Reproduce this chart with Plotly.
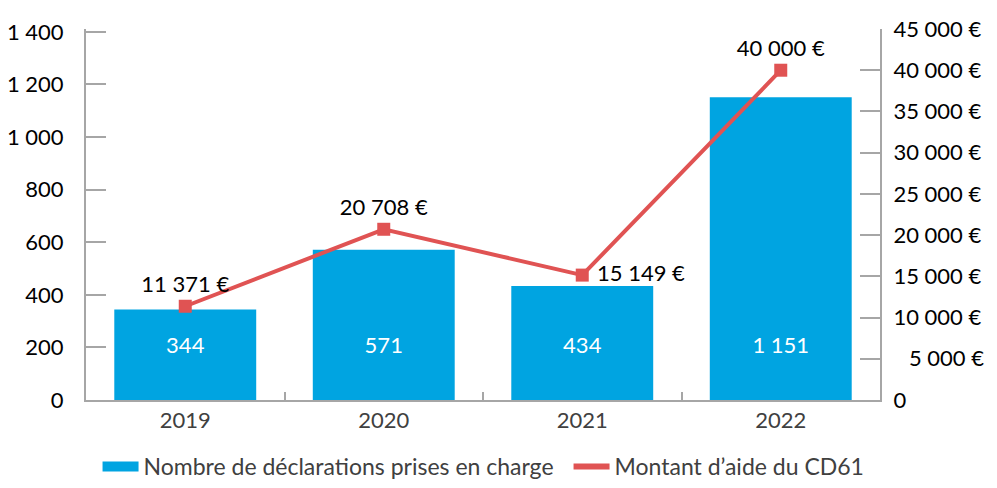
import plotly.graph_objects as go

YEARS = ["2019", "2020", "2021", "2022"]
DECLARATIONS = [344, 571, 434, 1151]
DECL_LABELS = ["344", "571", "434", "1 151"]
MONTANT = [11371, 20708, 15149, 40000]
MONTANT_LABELS = ["11 371 €", "20 708 €", " 15 149 €", "40 000 €"]
MONTANT_POS = ["top center", "top center", "middle right", "top center"]

LEFT_TICKS = [0, 200, 400, 600, 800, 1000, 1200, 1400]
LEFT_TICKTEXT = ["0", "200", "400", "600", "800", "1 000", "1 200", "1 400"]
RIGHT_TICKS = [0, 5000, 10000, 15000, 20000, 25000, 30000, 35000, 40000, 45000]
RIGHT_TICKTEXT = ["0", "\u2007\u20095 000 €", "10 000 €", "15 000 €", "20 000 €",
                  "25 000 €", "30 000 €", "35 000 €", "40 000 €", "45 000 €"]

LABEL_LEVEL = 200  # height (left axis units) where the white counts sit

BLUE = "#00A4E1"
RED = "#E05353"
AXIS = "#A6A6A6"
FONT = "Lato"
SIZE = 22

fig = go.Figure()
fig.add_trace(go.Bar(
    x=YEARS, y=DECLARATIONS,
    name="Nombre de déclarations prises en charge",
    marker=dict(color=BLUE, line=dict(width=0)),
    hoverinfo="skip", showlegend=False,
))
# white count labels inside the bars
fig.add_trace(go.Scatter(
    x=YEARS, y=[LABEL_LEVEL] * len(YEARS),
    mode="text", text=DECL_LABELS, textposition="middle center",
    textfont=dict(family=FONT, size=SIZE, color="#FFFFFF"),
    showlegend=False, hoverinfo="skip",
))
fig.add_trace(go.Scatter(
    x=YEARS, y=MONTANT, yaxis="y2",
    mode="lines",
    name="Montant d\u2019aide du CD61",
    line=dict(color=RED, width=4),
    showlegend=False,
))
fig.add_trace(go.Scatter(
    x=YEARS, y=MONTANT, yaxis="y2",
    mode="markers+text",
    marker=dict(symbol="square", size=13, color=RED),
    text=MONTANT_LABELS,
    textposition=MONTANT_POS,
    textfont=dict(family=FONT, size=SIZE, color="#000000"),
    showlegend=False,
))
# legend entries drawn as wide swatches like the original
fig.add_trace(go.Scatter(
    x=[None], y=[None], mode="lines",
    name="Nombre de déclarations prises en charge",
    line=dict(color=BLUE, width=17),
    legendwidth=420,
))
fig.add_trace(go.Scatter(
    x=[None], y=[None], mode="lines",
    name="Montant d\u2019aide du CD61",
    line=dict(color=RED, width=6),
))

fig.update_layout(
    width=997, height=488,
    paper_bgcolor="white", plot_bgcolor="white",
    margin=dict(l=86, r=117, t=29, b=88),
    bargap=0.285,
    font=dict(family=FONT, size=SIZE, color="#000000"),
    showlegend=True,
    legend=dict(
        orientation="h",
        xref="container", x=0.485, xanchor="center",
        yref="container", y=-0.02, yanchor="bottom",
        font=dict(family=FONT, size=23, color="#404040"),
        itemwidth=36,
    ),
    xaxis=dict(
        type="category", automargin=False,
        showline=True, linecolor=AXIS, linewidth=2,
        ticks="inside", tickson="boundaries", ticklen=8, tickcolor=AXIS, tickwidth=2,
        showgrid=False,
        tickfont=dict(family=FONT, size=SIZE, color="#404040"),
    ),
    yaxis=dict(
        range=[0, 1411], automargin=False,
        tickvals=LEFT_TICKS, ticktext=LEFT_TICKTEXT,
        showline=True, linecolor=AXIS, linewidth=2,
        ticks="inside", ticklen=20, tickcolor=AXIS, tickwidth=2,
        showgrid=False, zeroline=False,
        ticklabelstandoff=16,
    ),
    yaxis2=dict(
        overlaying="y", side="right", automargin=False,
        range=[0, 45000],
        tickvals=RIGHT_TICKS, ticktext=RIGHT_TICKTEXT,
        showline=True, linecolor=AXIS, linewidth=2,
        ticks="inside", ticklen=20, tickcolor=AXIS, tickwidth=2,
        showgrid=False, zeroline=False,
        ticklabelstandoff=7,
    ),
)

fig.write_html("out.html", config={"displayModeBar": False},
               post_script="document.body.style.margin = '0';")
